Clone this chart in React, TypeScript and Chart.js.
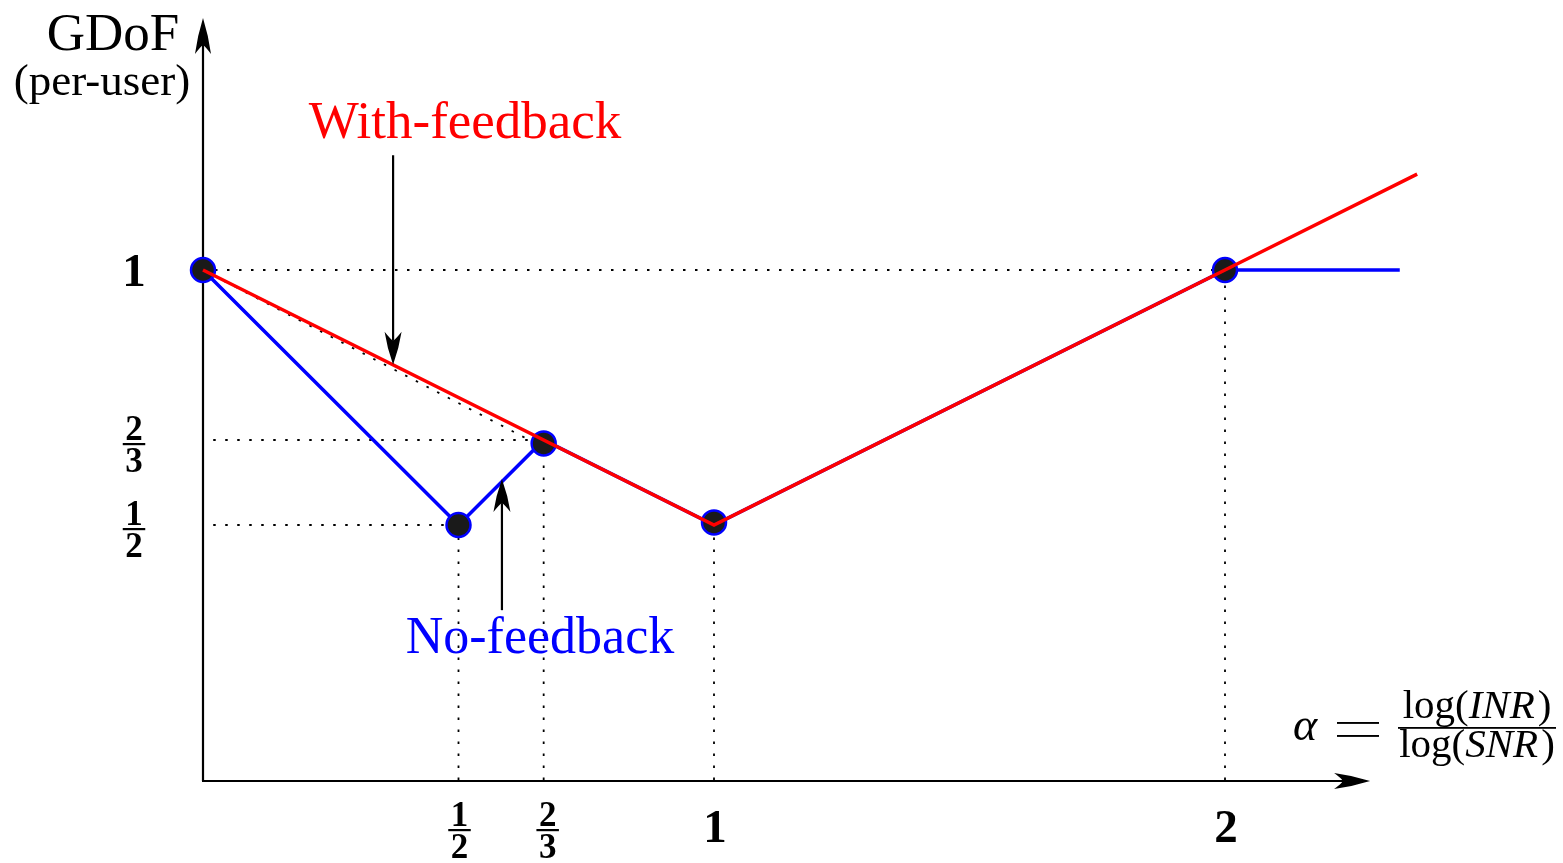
import React, { useEffect, useRef } from "react";
import { Chart, registerables } from "chart.js";

Chart.register(...registerables);

const W = 1563;
const H = 863;

// ---- data ----
const withFeedbackX = [0, 1, 2, 2.376];
const withFeedbackY = [1, 0.5, 1, 1.188];
const noFeedbackX = [0, 0.5, 2 / 3, 1, 2, 2.342];
const noFeedbackY = [1, 0.5, 2 / 3, 0.5, 1, 1];
const cornerX = [0, 0.5, 2 / 3, 1, 2];
const cornerY = [1, 0.5, 0.66, 0.505, 1];

const xTickValues = [0.5, 2 / 3, 1, 2];
const xTickLabels = ["1/2", "2/3", "1", "2"];
const yTickValues = [1, 2 / 3, 0.5];
const yTickLabels = ["1", "2/3", "1/2"];

// dotted guide lines
const hGuideY = [1, 2 / 3, 0.5];
const hGuideStartX = [0, 0.02, 0.02];
const hGuideEndX = [2, 2 / 3, 0.5];
const vGuideX = [0.5, 2 / 3, 1, 2];
const vGuideTopY = [0.5, 0.66, 0.5, 1];
const diagGuideX = [0, 2 / 3];
const diagGuideY = [1, 0.652];

// axis extents (data units)
const axisXEnd = 2.284;
const axisYEnd = 1.494;

// annotation arrows: [x, yFrom, yTo]
const withArrow = [0.372, 1.225, 0.814];
const noArrow = [0.585, 0.333, 0.59];

const SERIF = '"Liberation Serif", "Times New Roman", serif';

function drawArrow(ctx: CanvasRenderingContext2D, x1: number, y1: number, x2: number, y2: number, len: number, half: number, indent: number) {
  const a = Math.atan2(y2 - y1, x2 - x1);
  const dx = Math.cos(a), dy = Math.sin(a);
  const px = -dy, py = dx;
  ctx.beginPath();
  ctx.moveTo(x1, y1);
  ctx.lineTo(x2 - (len - indent) * dx, y2 - (len - indent) * dy);
  ctx.stroke();
  const bx = x2 - len * dx, by = y2 - len * dy;
  const mx = x2 - (len - indent) * dx, my = y2 - (len - indent) * dy;
  ctx.beginPath();
  ctx.moveTo(x2, y2);
  ctx.quadraticCurveTo(x2 - len * 0.5 * dx + half * 0.7 * px, y2 - len * 0.5 * dy + half * 0.7 * py, bx + half * px, by + half * py);
  ctx.quadraticCurveTo(mx - 2 * dx + half * 0.35 * px, my - 2 * dy + half * 0.35 * py, mx, my);
  ctx.quadraticCurveTo(mx - 2 * dx - half * 0.35 * px, my - 2 * dy - half * 0.35 * py, bx - half * px, by - half * py);
  ctx.quadraticCurveTo(x2 - len * 0.5 * dx - half * 0.7 * px, y2 - len * 0.5 * dy - half * 0.7 * py, x2, y2);
  ctx.closePath();
  ctx.fill();
}

function drawFrac(ctx: CanvasRenderingContext2D, num: string, den: string, cx: number, barY: number, size: number) {
  ctx.font = `bold ${size}px ${SERIF}`;
  ctx.textAlign = "center";
  ctx.textBaseline = "alphabetic";
  const w = Math.max(ctx.measureText(num).width, ctx.measureText(den).width) + 5;
  ctx.fillText(num, cx, barY - 4);
  ctx.fillText(den, cx, barY + size * 0.8);
  ctx.fillRect(cx - w / 2, barY - 1, w, 2.2);
}

function drawLabel(ctx: CanvasRenderingContext2D, label: string, cx: number, cy: number, fracSize: number, fullSize: number, baselineOffset: number) {
  if (label.includes("/")) {
    const [n, d] = label.split("/");
    drawFrac(ctx, n, d, cx, cy, fracSize);
  } else {
    ctx.font = `bold ${fullSize}px ${SERIF}`;
    ctx.textAlign = "center";
    ctx.textBaseline = "alphabetic";
    ctx.fillText(label, cx, cy + baselineOffset);
  }
}

function drawRuns(ctx: CanvasRenderingContext2D, runs: [string, boolean][], cx: number, baseline: number, size: number) {
  let total = 0;
  const widths = runs.map(([t, it]) => {
    ctx.font = `${it ? "italic " : ""}${size}px ${SERIF}`;
    const w = ctx.measureText(t).width + (it ? 3 : 0);
    total += w;
    return w;
  });
  let x = cx - total / 2;
  ctx.textAlign = "left";
  runs.forEach(([t, it], i) => {
    ctx.font = `${it ? "italic " : ""}${size}px ${SERIF}`;
    ctx.fillText(t, x, baseline);
    x += widths[i];
  });
  return total;
}

const overlay = {
  id: "overlay",
  beforeDatasetsDraw(chart: any) {
    const ctx: CanvasRenderingContext2D = chart.ctx;
    const xs = chart.scales.x, ys = chart.scales.y;
    const x0 = xs.getPixelForValue(0), y0 = ys.getPixelForValue(0);
    ctx.save();
    ctx.strokeStyle = "#000";
    ctx.fillStyle = "#000";
    ctx.lineWidth = 2.2;
    drawArrow(ctx, x0, y0 + 1, x0, ys.getPixelForValue(axisYEnd), 36, 8, 9);
    drawArrow(ctx, x0 - 1, y0 + 1, xs.getPixelForValue(axisXEnd), y0 + 1, 36, 8, 9);
    ctx.restore();
  },
  afterDatasetsDraw(chart: any) {
    const ctx: CanvasRenderingContext2D = chart.ctx;
    const xs = chart.scales.x, ys = chart.scales.y;
    ctx.save();
    ctx.fillStyle = "#000";
    ctx.strokeStyle = "#000";
    ctx.lineWidth = 2.2;
    // annotation arrows
    drawArrow(ctx, xs.getPixelForValue(withArrow[0]), ys.getPixelForValue(withArrow[1]), xs.getPixelForValue(withArrow[0]), ys.getPixelForValue(withArrow[2]), 33, 8.5, 9);
    drawArrow(ctx, xs.getPixelForValue(noArrow[0]), ys.getPixelForValue(noArrow[1]), xs.getPixelForValue(noArrow[0]), ys.getPixelForValue(noArrow[2]), 33, 8.5, 9);

    // tick labels
    ctx.fillStyle = "#000";
    yTickValues.forEach((v, i) => {
      drawLabel(ctx, yTickLabels[i], 134, ys.getPixelForValue(v) + (yTickLabels[i].includes("/") ? 4 : 0), 35, 47, 16);
    });
    xTickValues.forEach((v, i) => {
      const lab = xTickLabels[i];
      const cx = xs.getPixelForValue(v) + (lab === "2/3" ? 4 : 1);
      drawLabel(ctx, lab, cx, 830, 35, 47, 12);
    });

    // y axis title
    ctx.textAlign = "center";
    ctx.textBaseline = "alphabetic";
    ctx.font = `53px ${SERIF}`;
    ctx.fillText("GDoF", 113, 50);
    ctx.font = `45px ${SERIF}`;
    ctx.fillText("(per-user)", 102, 95);

    // x axis title
    ctx.font = `italic 46px ${SERIF}`;
    ctx.textAlign = "center";
    ctx.fillText("\u03b1", 1305, 740);
    ctx.fillRect(1337, 722, 42, 1.9);
    ctx.fillRect(1337, 735, 42, 1.9);
    const numW = drawRuns(ctx, [["log(", false], ["INR", true], [")", false]], 1477, 718, 41);
    const denW = drawRuns(ctx, [["log(", false], ["SNR", true], [")", false]], 1477, 757, 41);
    const bw = Math.max(numW, denW, 158);
    ctx.fillRect(1477 - bw / 2, 727, bw, 1.8);

    // series labels
    ctx.textAlign = "center";
    ctx.font = `53px ${SERIF}`;
    ctx.fillStyle = "#ff0000";
    ctx.fillText("With-feedback", 465, 138);
    ctx.fillStyle = "#0000ff";
    ctx.font = `52px ${SERIF}`;
    ctx.fillText("No-feedback", 540, 653);
    ctx.restore();
  },
};

function pts(xs: number[], ys: number[]) {
  return xs.map((x, i) => ({ x, y: ys[i] }));
}

export default function App() {
  const ref = useRef<HTMLCanvasElement>(null);
  useEffect(() => {
    if (!ref.current) return;
    const dotted = {
      borderColor: "#000",
      borderWidth: 1.8,
      borderDash: [2.5, 9.5],
      pointRadius: 0,
      showLine: true,
      fill: false,
      order: 3,
      clip: false as any,
    };
    const guides: any[] = [];
    hGuideY.forEach((y, i) => {
      guides.push({ ...dotted, label: "hg" + i, data: [{ x: hGuideStartX[i], y }, { x: hGuideEndX[i], y }] });
    });
    vGuideX.forEach((x, i) => {
      guides.push({ ...dotted, label: "vg" + i, data: [{ x, y: 0 }, { x, y: vGuideTopY[i] }] });
    });
    guides.push({ ...dotted, label: "dg", data: pts(diagGuideX, diagGuideY) });

    const chart = new Chart(ref.current, {
      type: "scatter",
      data: {
        datasets: [
          {
            label: "With-feedback",
            data: pts(withFeedbackX, withFeedbackY),
            showLine: true,
            borderColor: "#ff0000",
            borderWidth: 3.5,
            pointRadius: 0,
            order: 0,
            clip: false as any,
          },
          {
            label: "corners",
            data: pts(cornerX, cornerY),
            showLine: false,
            pointRadius: 12,
            pointBackgroundColor: "#1a1a1a",
            pointBorderColor: "#0000ff",
            pointBorderWidth: 2.5,
            order: 1,
            clip: false as any,
          },
          {
            label: "No-feedback",
            data: pts(noFeedbackX, noFeedbackY),
            showLine: true,
            borderColor: "#0000ff",
            borderWidth: 3.5,
            pointRadius: 0,
            order: 2,
            clip: false as any,
          },
          ...guides,
        ],
      },
      options: {
        responsive: false,
        animation: false,
        events: [],
        layout: { padding: { left: 203, right: W - (203 + 511 * 2.5), top: 15, bottom: H - 780 } },
        plugins: { legend: { display: false }, tooltip: { enabled: false } },
        scales: {
          x: { type: "linear", min: 0, max: 2.5, display: false },
          y: { type: "linear", min: 0, max: 1.5, display: false },
        },
      },
      plugins: [overlay],
    });
    return () => chart.destroy();
  }, []);
  return (
    <div style={{ position: "fixed", left: 0, top: 0, width: W, height: H, background: "#fff" }}>
      <canvas ref={ref} width={W} height={H} style={{ display: "block" }} />
    </div>
  );
}
